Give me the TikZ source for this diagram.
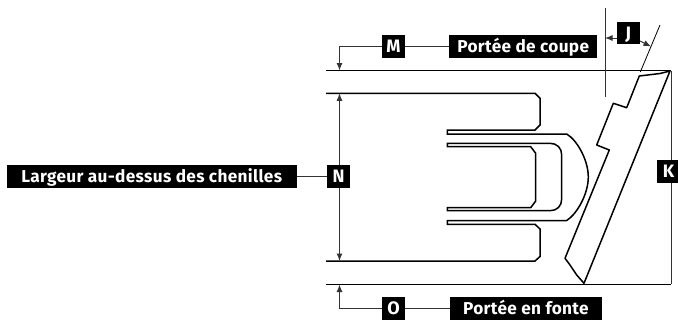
\documentclass[tikz,border=0pt]{standalone}
\usepackage{fontspec}
\setmainfont{Fira Sans}[LetterSpace=2.0]
\usepackage{xcolor}
\usetikzlibrary{arrows.meta}
\tikzset{
  tag/.style={fill=black,text=white,font=\fontsize{18}{18}\selectfont\bfseries,inner sep=0pt,minimum width=23pt,minimum height=22.7pt,text height=12.5pt,text depth=0pt},
  caption/.style={tag,font=\fontsize{17.2}{18}\selectfont\bfseries,minimum width=#1},
  cote/.style={line width=1pt,black!80},
  trait/.style={line width=1.5pt,black},
  fleche/.style={cote,-{Latex[length=7.5pt,width=6pt]}},
}
\begin{document}
\begin{tikzpicture}[x=1pt,y=-1pt]
      \useasboundingbox (0,0) rectangle (678,322);
      % reference lines
      \draw[line width=0.9pt] (326,70.5) -- (671,70.5);
      \draw[line width=0.9pt] (326,284) -- (671,284);
      \draw[cote] (605,8) -- (605,97);
      \draw[line width=0.8pt] (660,25) -- (640.3,72);
      \draw[cote] (671,70.5) -- (671,284);
      % tracks
      \draw[trait] (326,93.3) -- (535,93.3) -- (540,98.3) -- (540,125) -- (535,130) -- (447.3,130) -- (447.3,134) -- (566.7,134)
        .. controls (577,140) and (588.3,160) .. (588.3,177) .. controls (588.3,194) and (577,214) .. (566.7,220.5)
        -- (447.3,220.5) -- (447.3,224.3) -- (535,224.3) -- (540,229) -- (540,256.5) -- (535,261) -- (326,261);
      \draw[trait] (447.3,146.7) -- (530.7,146.7) -- (535.7,153.3) -- (535.7,201) -- (530.7,207.7) -- (447.3,207.7) -- (447.3,210.7) -- (550,210.7)
        .. controls (557,210.7) and (561.7,206) .. (561.7,199) -- (561.7,155) .. controls (561.7,148) and (557,143.3) .. (550,143.3) -- (447.3,143.3) -- cycle;
      % blade
      \draw[trait,line join=round] (670,71) -- (584,283.3) -- (576.7,275) -- (570,265) -- (565,258.3) -- (609.3,150) -- (596.7,145) -- (613.3,103.3) -- (626.7,107.7) -- (639.3,76) -- (660,73.5) -- cycle;
      % labels
      \node[tag] (M) at (393.5,46.5) {M};
      \node[caption=148.3pt] (coupe) at (523.2,46.5) {Portée de coupe};
      \node[tag] (N) at (338.7,176.3) {N};
      \node[caption=290pt] (largeur) at (151.7,176.3) {Largeur au-dessus des chenilles};
      \node[tag] (O) at (393.7,308.3) {O};
      \node[caption=151.7pt] (fonte) at (525.9,308.3) {Portée en fonte};
      \node[tag] (J) at (628.3,33) {J};
      \node[tag] (K) at (668.5,171.3) {K};
      % dimensions
      \coordinate (mtip) at (339.5,70.5);
      \coordinate (ntop) at (339.5,93.3);
      \coordinate (nbot) at (339.5,261);
      \coordinate (otip) at (339.5,284.5);
      \coordinate (jleft) at (605,38);
      \coordinate (jright) at (651,46.5);
      \draw[cote] (coupe) -- (M);
      \draw[cote] (largeur) -- (N);
      \draw[cote] (fonte) -- (O);
      \draw[fleche] (M) -| (mtip);
      \draw[fleche] (N.north -| ntop) -- (ntop);
      \draw[fleche] (N.south -| nbot) -- (nbot);
      \draw[fleche] (O) -| (otip);
      \draw[fleche] (J.west |- jleft) -- (jleft);
      \draw[fleche] (J.east |- 0,41) -- (jright);
\end{tikzpicture}
\end{document}
